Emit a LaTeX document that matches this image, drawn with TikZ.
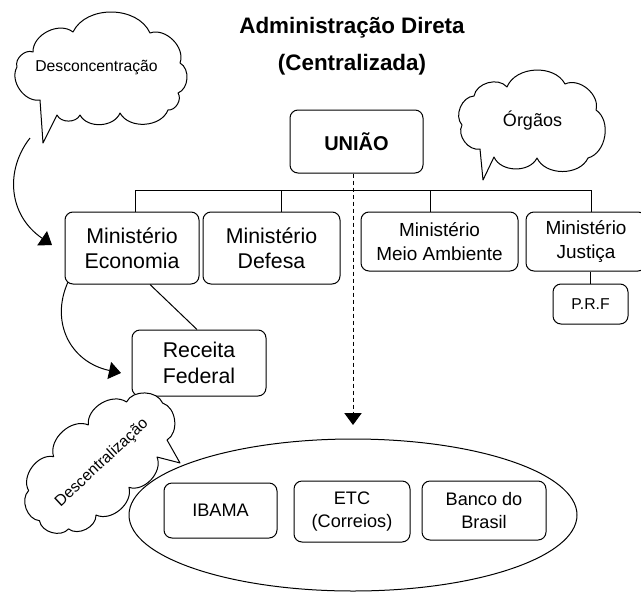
\documentclass[tikz,border=0pt]{standalone}
\usepackage{fontspec}
\setmainfont{Liberation Sans}
\usetikzlibrary{shapes.geometric,arrows.meta,calc}
\begin{document}
\begin{tikzpicture}[x=0.75pt,y=0.75pt,line width=0.75pt,
  box/.style={draw,rounded corners=6pt,align=center,inner sep=0pt,fill=white},
  sz/.style 2 args={minimum width={#1*0.75pt},minimum height={#2*0.75pt}},
  fbig/.style={font=\fontsize{16}{19}\selectfont},
  fmid/.style={font=\fontsize{14.2}{18}\selectfont},
  fbot/.style={font=\fontsize{13.6}{17}\selectfont},
  fcloud/.style={font=\fontsize{11.8}{14}\selectfont},
  cloudline/.style={draw,fill=white,line join=round},
  blockarrow/.style={-{Triangle[length=9pt,width=13pt]}},
  puff/.style={bend left=65}
]
\useasboundingbox (0,0) rectangle (641,-592);

% title
\node[align=center,font=\fontsize{16.8}{27.5}\bfseries\selectfont] (title) at (352,-46) {Administração Direta\\(Centralizada)};

% ellipse group
\node[draw,ellipse,minimum width=336pt,minimum height=114pt,inner sep=0pt] (ell) at (353,-515) {};

% boxes
\node[box,sz={133}{63},font=\fontsize{15}{19}\bfseries\selectfont] (uniao) at (356.5,-141.5) {UNIÃO};
\node[box,sz={134}{72},fbig] (eco) at (132,-248) {Ministério\\Economia};
\node[box,sz={137}{72},fbig] (def) at (271.5,-248) {Ministério\\Defesa};
\node[box,sz={157}{59},fmid] (mei) at (439.5,-241.5) {Ministério\\Meio Ambiente};
\node[box,sz={120}{59},fmid] (jus) at (586,-241.5) {Ministério\\Justiça};
\node[box,sz={75}{40},font=\fontsize{11.8}{14}\selectfont] (prf) at (590.5,-304) {P.R.F};
\node[box,sz={134}{66},font=\fontsize{16}{20}\selectfont] (rec) at (199,-363) {Receita\\Federal};
\node[box,sz={113}{55},fbot] (ibama) at (220.5,-510.5) {IBAMA};
\node[box,sz={116}{61},fbot] (etc) at (352,-511.5) {ETC\\(Correios)};
\node[box,sz={124}{59},fbot] (bb) at (484,-510.5) {Banco do\\Brasil};

% tree connectors
\coordinate (bL) at (135,-190);
\coordinate (b2) at (281,-190);
\coordinate (b3) at (430,-190);
\coordinate (bR) at (591,-190);
\draw (bL |- eco.north) -- (bL) -- (bR) -- (bR |- jus.north);
\draw (b2) -- (b2 |- def.north);
\draw (b3) -- (b3 |- mei.north);
\draw ($(eco.south)+(18,0)$) -- ($(rec.north)+(-2,0)$);
\draw (jus.south -| prf.north) -- (prf.north);

% dashed arrow
\coordinate (dtip) at (353,-425);
\draw[blockarrow,dash pattern=on 3pt off 2.25pt] (uniao.south -| dtip) -- (dtip);

% clouds
\draw[cloudline] (17,-67) to[puff] (33,-52) to[puff] (73,-32) to[puff] (150,-33)
  to[puff] (180,-63) to[puff] (178,-93) to[puff] (168,-110) to[puff] (120,-113)
  to[puff] (80,-115) to[puff] (57,-115) -- (43,-143) -- (40,-100) to[puff] (17,-67) -- cycle;
\node[fcloud] (desc) at (96.5,-68) {Desconcentração};

\draw[cloudline] (462,-125) to[puff] (474,-96) to[puff] (507,-87) to[puff] (565,-84)
  to[puff] (596,-110) to[puff] (588,-158) to[puff] (537,-158) to[puff] (494,-157)
  -- (483,-180) -- (480,-149) to[puff] (462,-125) -- cycle;
\node[font=\fontsize{13.5}{16}\selectfont] (org) at (532.5,-121) {Órgãos};

\begin{scope}[shift={(102,-463)},rotate=40]
\draw[cloudline] (-85,-4) to[puff] (-74,26) to[puff] (-33,36) to[puff] (14,38)
  to[puff] (58,31) to[puff] (85,7) to[puff] (64.6,-24.2) -- (59.8,-50.1) -- (46,-30.8)
  to[puff] (5,-36) to[puff] (-38,-36) to[puff] (-68,-29) to[puff] (-85,-4) -- cycle;
\end{scope}
\node[fcloud,rotate=43] (dcen) at (102,-463) {Descentralização};

% curved arrows
\coordinate (a1s) at (30,-138);
\coordinate (a1e) at (52,-245);
\draw[blockarrow] (a1s) .. controls (5,-170) and (8,-215) .. (a1e);
\coordinate (a2s) at (68,-282);
\coordinate (a2e) at (121,-373);
\draw[blockarrow] (a2s) .. controls (50,-322) and (70,-362) .. (a2e);
\end{tikzpicture}
\end{document}
